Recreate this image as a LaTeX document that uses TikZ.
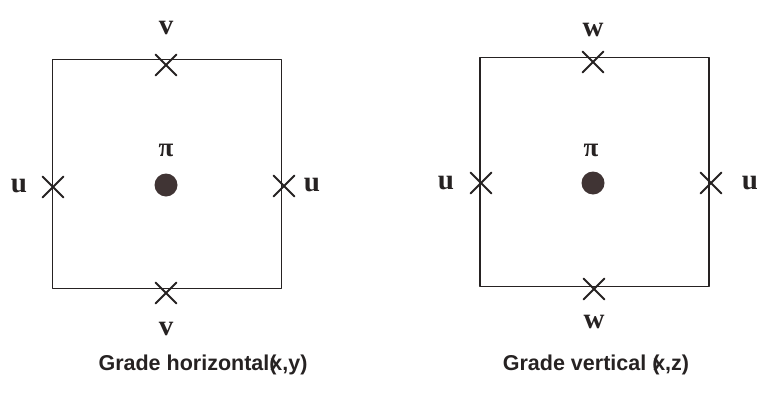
\documentclass[tikz,border=0pt]{standalone}
\usepackage{fontspec}
\setmainfont{Liberation Serif}
\setsansfont{Liberation Sans}
\usetikzlibrary{shapes.misc}
\definecolor{ink}{RGB}{38,34,34}
\definecolor{dotc}{RGB}{64,52,52}
\tikzset{
  cell/.style={draw=ink, line width=1.4pt, minimum size=229pt, inner sep=0pt},
  xmark/.style={cross out, draw=ink, line width=1.9pt, minimum size=19pt, inner sep=0pt},
  pdot/.style={circle, fill=dotc, minimum size=23pt, inner sep=0pt},
  lbl/.style={font=\fontsize{29}{31}\selectfont\bfseries, text=ink, inner sep=0pt},
  pilbl/.style={font=\fontsize{27}{29}\selectfont\bfseries, text=ink, inner sep=0pt},
  gcaption/.style={font=\sffamily\bfseries\fontsize{21.5}{24}\selectfont, text=ink, inner sep=0pt}
}
\begin{document}
\begin{tikzpicture}[x=1pt, y=-1pt, line join=round, line cap=round]
	\useasboundingbox (0,0) rectangle (757,399);
	% grade horizontal (x,y)
	\node[cell] (gh) at (167,174) {};
	\node[xmark] (ghn) at (166,65) {};
	\node[xmark] (ghs) at (166,293) {};
	\node[xmark] (ghw) at (53,187) {};
	\node[xmark] (ghe) at (284,186) {};
	\node[pdot] (ghp) at (166,185) {};
	\node[pilbl] (ghpi) at (166,150) {π};
	\node[lbl] (ghv1) at (166,28) {v};
	\node[lbl] (ghv2) at (166,329) {v};
	\node[lbl] (ghu1) at (19,186) {u};
	\node[lbl] (ghu2) at (312,185) {u};
	\node[gcaption] (ghcap) at (203,365) {Grade horizontal\rlap{(}\kern1pt x,y)};
	% grade vertical (x,z)
	\node[cell] (gv) at (594.5,172) {};
	\node[xmark] (gvn) at (593,62) {};
	\node[xmark] (gvs) at (594,289) {};
	\node[xmark] (gvw) at (481,183) {};
	\node[xmark] (gve) at (711,183) {};
	\node[pdot] (gvp) at (593,183) {};
	\node[pilbl] (gvpi) at (591,150) {π};
	\node[lbl] (gvw1) at (593,30) {w};
	\node[lbl] (gvw2) at (594,322) {w};
	\node[lbl] (gvu1) at (446,183) {u};
	\node[lbl] (gvu2) at (750,183) {u};
	\node[gcaption] (gvcap) at (596,365) {Grade vertical \rlap{(}\kern1pt x,z)};
\end{tikzpicture}
\end{document}
